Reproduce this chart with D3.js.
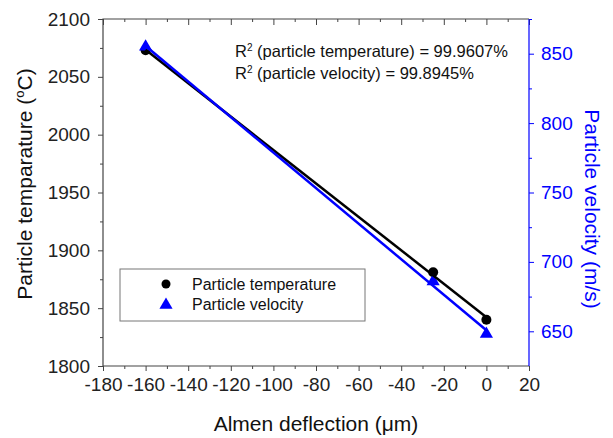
<!doctype html>
<html lang="en">
<head>
  <meta charset="utf-8">
  <title>Particle temperature and velocity vs Almen deflection</title>
  <script src="https://cdn.jsdelivr.net/npm/d3@7"></script>
  <style>
    body{margin:0;background:#fff}
    svg text{font-family:"Liberation Sans",Arial,sans-serif}
  </style>
</head>
<body>
  <div id="chart"></div>
<script>
// data
var deflection = [-160, -25, 0];
var temperature = [2073, 1881, 1840];
var velocity = [855, 686, 648];
var seriesNames = ["Particle temperature", "Particle velocity"];
var fitLabels = ["R\u00b2 (particle temperature) = 99.9607%", "R\u00b2 (particle velocity) = 99.8945%"];
var xTicks = d3.range(-180, 21, 20);
var leftTicks = d3.range(1800, 2101, 50);
var rightTicks = d3.range(650, 851, 50);

var W = 613, H = 438;
var svg = d3.select("#chart").append("svg").attr("width", W).attr("height", H);

var x = d3.scaleLinear().domain([-180, 20]).range([103, 529]),
    yT = d3.scaleLinear().domain([1800, 2100]).range([366, 19]),
    yV = d3.scaleLinear().domain([625, 875]).range([366, 19]);

var axisCol = "#444", blue = "#0000ff";
var plain = function (d) { return String(d); }; // keep hyphen minus like the original

function styleAxis(g, col, fs) {
  g.select(".domain").remove();
  g.selectAll("line").attr("stroke", col).attr("stroke-width", 1);
  g.selectAll("text").attr("fill", col === axisCol ? "#222" : col).style("font-size", fs + "px");
}

// minor ticks first
svg.append("g").attr("transform", "translate(0,366)")
  .call(d3.axisBottom(x).tickValues(d3.range(-170, 20, 20)).tickSize(3).tickFormat(""))
  .call(styleAxis, axisCol, 19);
svg.append("g").attr("transform", "translate(0,19)")
  .call(d3.axisBottom(x).tickValues(d3.range(-170, 20, 20)).tickSize(3).tickFormat(""))
  .call(styleAxis, axisCol, 19);
svg.append("g").attr("transform", "translate(103,0)")
  .call(d3.axisLeft(yT).tickValues(d3.range(1825, 2100, 50)).tickSize(3).tickFormat(""))
  .call(styleAxis, axisCol, 19);
svg.append("g").attr("transform", "translate(529,0)")
  .call(d3.axisRight(yV).tickValues(d3.range(675, 850, 50).concat([875])).tickSize(3).tickFormat(""))
  .call(styleAxis, blue, 19);

// major ticks
svg.append("g").attr("transform", "translate(0,366)")
  .call(d3.axisBottom(x).tickValues(xTicks).tickSize(5).tickPadding(7).tickFormat(plain))
  .call(styleAxis, axisCol, 19);
svg.append("g").attr("transform", "translate(0,19)")
  .call(d3.axisBottom(x).tickValues(xTicks).tickSize(6).tickFormat(""))
  .call(styleAxis, axisCol, 19);
svg.append("g").attr("transform", "translate(103,0)")
  .call(d3.axisLeft(yT).tickValues(leftTicks).tickSize(5).tickPadding(8).tickFormat(plain))
  .call(styleAxis, axisCol, 19);
svg.append("g").attr("transform", "translate(529,0)")
  .call(d3.axisRight(yV).tickValues(rightTicks).tickSize(5).tickPadding(7).tickFormat(plain))
  .call(styleAxis, blue, 19);

// frame
svg.append("path").attr("d", "M529,366H103V19H529")
  .attr("fill", "none").attr("stroke", axisCol).attr("stroke-width", 1.2);
svg.append("line").attr("x1", 529).attr("x2", 529).attr("y1", 19).attr("y2", 366)
  .attr("stroke", blue).attr("stroke-width", 1.2);

// least squares fit
function fit(xs, ys) {
  var mx = d3.mean(xs), my = d3.mean(ys), sxy = 0, sxx = 0;
  xs.forEach(function (v, i) { sxy += (v - mx) * (ys[i] - my); sxx += (v - mx) * (v - mx); });
  var b = sxy / sxx;
  return function (v) { return my + b * (v - mx); };
}
var fT = fit(deflection, temperature), fV = fit(deflection, velocity);
var xr = d3.extent(deflection);

// markers
svg.append("g").selectAll("circle").data(deflection).enter().append("circle")
  .attr("cx", function (d) { return x(d); })
  .attr("cy", function (d, i) { return yT(temperature[i]); })
  .attr("r", 5).attr("fill", "#000");
var tri = d3.symbol().type(d3.symbolTriangle).size(75);
svg.append("g").selectAll("path").data(deflection).enter().append("path")
  .attr("d", tri)
  .attr("transform", function (d, i) { return "translate(" + x(d) + "," + yV(velocity[i]) + ")"; })
  .attr("fill", blue);

svg.append("line")
  .attr("x1", x(xr[0])).attr("y1", yT(fT(xr[0])))
  .attr("x2", x(xr[1])).attr("y2", yT(fT(xr[1])))
  .attr("stroke", "#000").attr("stroke-width", 2.5);
svg.append("line")
  .attr("x1", x(xr[0])).attr("y1", yV(fV(xr[0])))
  .attr("x2", x(xr[1])).attr("y2", yV(fV(xr[1])))
  .attr("stroke", blue).attr("stroke-width", 2.5);

// R2 annotation
fitLabels.forEach(function (s, i) {
  var t = svg.append("text").attr("x", 235).attr("y", 57 + i * 22)
    .style("font-size", "16.5px").attr("fill", "#111");
  t.append("tspan").text("R");
  t.append("tspan").attr("dy", -6).style("font-size", "10px").text("2");
  t.append("tspan").attr("dy", 6).text(s.slice(2));
});

// legend
var lg = svg.append("g");
lg.append("rect").attr("x", 120).attr("y", 269).attr("width", 245).attr("height", 52)
  .attr("fill", "#fff").attr("stroke", "#777").attr("stroke-width", 1);
lg.append("circle").attr("cx", 166).attr("cy", 284).attr("r", 4.5).attr("fill", "#000");
lg.append("path").attr("d", tri).attr("transform", "translate(166,305)").attr("fill", blue);
seriesNames.forEach(function (s, i) {
  lg.append("text").attr("x", 192).attr("y", 284 + i * 20).attr("dy", "0.35em")
    .style("font-size", "16px").attr("fill", "#111").text(s);
});

// axis titles
svg.append("text").attr("x", 316).attr("y", 431).attr("text-anchor", "middle")
  .style("font-size", "21px").attr("fill", "#111").text("Almen deflection (\u03bcm)");
var lt = svg.append("text").attr("transform", "translate(32,184) rotate(-90)")
  .attr("text-anchor", "middle").style("font-size", "21px").attr("fill", "#111");
lt.append("tspan").text("Particle temparature (");
lt.append("tspan").attr("dy", -8).style("font-size", "13px").text("o");
lt.append("tspan").attr("dy", 8).text("C)");
svg.append("text").attr("transform", "translate(585,209) rotate(90)")
  .attr("text-anchor", "middle").style("font-size", "21px").attr("fill", blue)
  .text("Particle velocity (m/s)");
</script>
</body>
</html>
